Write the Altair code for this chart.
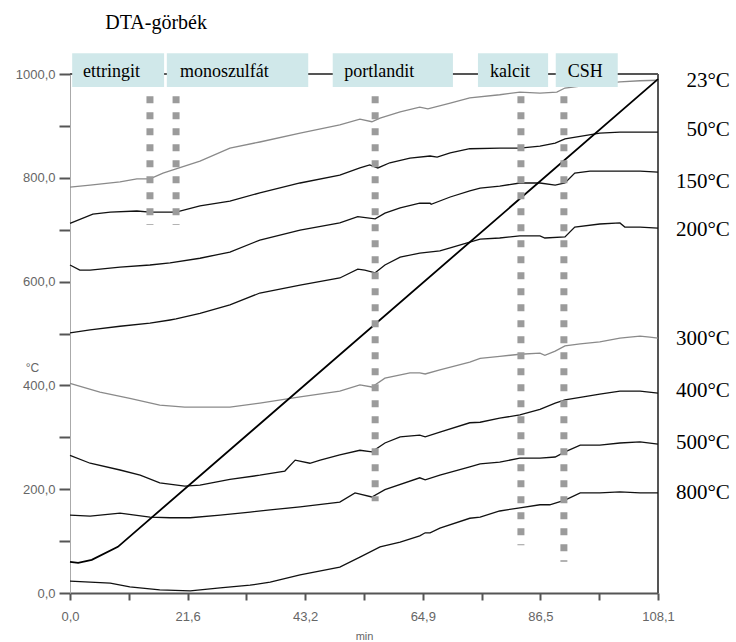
import altair as alt
import pandas as pd

SERIF = "Liberation Serif"
SANS = "Liberation Sans"

# ---------------- data (minutes, °C signal units) ----------------
c23_x = [0, 3.7, 9.2, 12.3, 14.7, 17.1, 19.5, 23.9, 29.4, 34.9, 42.3, 49.6, 53.3, 55.5, 57.0, 60.7, 64.3, 65.8, 69.9, 73.5, 79.0, 82.7, 86.4, 89.5, 91.0, 95.6, 101.1, 104.8, 108.1]
c23_y = [782, 786, 792, 798, 798, 809, 817, 832, 857, 869, 886, 902, 913, 908, 915, 927, 936, 933, 944, 954, 960, 965, 963, 965, 973, 979, 985, 987, 988]

c50_x = [0, 4.2, 7.4, 12.3, 14.7, 19.5, 23.9, 29.4, 34.9, 42.3, 49.6, 53.3, 55.1, 56.6, 58.8, 62.5, 66.2, 67.5, 69.9, 73.5, 79.0, 82.7, 86.4, 89.2, 91.0, 97.4, 101.1, 104.8, 108.1]
c50_y = [712, 730, 734, 736, 734, 734, 746, 755, 771, 790, 805, 819, 825, 819, 829, 838, 842, 840, 848, 856, 857, 857, 861, 867, 875, 886, 888, 888, 888]

c150_x = [0, 1.8, 3.7, 9.2, 14.7, 18.4, 23.9, 29.4, 34.9, 42.3, 49.6, 52.9, 56.1, 57.9, 60.7, 64.3, 66.2, 66.4, 69.9, 73.5, 75.4, 79.0, 82.7, 86.4, 89.2, 91.0, 92.8, 95.6, 101.1, 104.8, 108.1]
c150_y = [632, 622, 622, 628, 632, 636, 645, 657, 680, 699, 713, 725, 721, 732, 742, 751, 751, 749, 763, 775, 780, 784, 790, 790, 786, 790, 809, 813, 813, 813, 811]

c200_x = [0, 3.7, 9.2, 14.7, 18.4, 19.5, 23.9, 29.4, 34.9, 42.3, 49.6, 52.9, 54.2, 56.1, 57.9, 60.7, 64.3, 68.0, 69.9, 73.5, 75.4, 79.0, 82.7, 86.4, 87.3, 91.0, 92.8, 97.4, 101.1, 102.0, 104.8, 108.1]
c200_y = [501, 507, 514, 520, 526, 528, 539, 555, 578, 593, 607, 624, 622, 617, 632, 647, 655, 659, 665, 676, 682, 684, 688, 688, 684, 686, 705, 711, 713, 705, 705, 703]

c300_x = [0, 5.5, 11.0, 16.5, 21.1, 29.4, 34.9, 42.3, 49.6, 53.3, 55.5, 57.9, 62.5, 64.3, 65.3, 68.0, 73.5, 75.4, 79.0, 82.7, 86.4, 87.3, 89.2, 91.0, 93.8, 97.4, 101.1, 102.9, 104.8, 106.6, 108.1]
c300_y = [404, 387, 375, 362, 358, 358, 366, 378, 389, 401, 397, 414, 424, 424, 422, 430, 445, 452, 456, 460, 462, 458, 466, 476, 480, 484, 491, 493, 495, 493, 491]

c400_x = [0, 3.7, 9.2, 12.9, 16.5, 21.1, 23.9, 29.4, 34.9, 39.5, 41.4, 44.1, 46.0, 49.6, 53.3, 55.5, 57.9, 60.7, 64.3, 65.3, 68.0, 73.5, 75.4, 79.0, 82.7, 86.4, 89.2, 91.0, 93.8, 97.4, 101.1, 104.8, 108.1]
c400_y = [265, 250, 237, 227, 212, 206, 208, 219, 227, 235, 256, 250, 256, 266, 275, 272, 289, 301, 304, 301, 310, 328, 329, 337, 343, 354, 366, 372, 377, 383, 389, 389, 385]

c500_x = [0, 3.7, 9.2, 14.7, 18.4, 22.1, 27.6, 33.1, 36.8, 42.3, 49.6, 52.4, 55.5, 57.9, 64.3, 65.3, 68.0, 73.5, 75.4, 79.0, 82.7, 86.4, 89.2, 91.0, 93.8, 97.4, 101.1, 104.8, 108.1]
c500_y = [150, 148, 154, 146, 145, 145, 150, 156, 160, 166, 175, 193, 185, 199, 222, 218, 227, 243, 249, 252, 260, 260, 262, 272, 285, 285, 289, 291, 287]

c800_x = [0, 3.7, 7.4, 11.0, 16.5, 22.1, 27.6, 33.1, 36.8, 42.3, 49.6, 53.3, 57.0, 60.7, 64.3, 65.3, 66.2, 68.0, 73.5, 75.4, 79.0, 82.7, 86.4, 88.2, 91.0, 93.8, 97.4, 101.1, 104.8, 108.1]
c800_y = [23, 21, 19, 12, 6, 4, 10, 15, 21, 35, 50, 69, 89, 98, 110, 116, 116, 125, 144, 146, 158, 164, 170, 170, 179, 193, 193, 195, 193, 193]

temp_x = [0, 1.5, 4.0, 8.8, 108.1]
temp_y = [60, 58, 64, 89, 990]

series_names = ["23°C", "50°C", "150°C", "200°C", "300°C", "400°C", "500°C", "800°C"]
series_colors = ["#8a8a8a", "#111111", "#111111", "#111111", "#8a8a8a", "#111111", "#111111", "#111111"]
label_y = [986, 892, 792, 699, 489, 389, 289, 193]

box_labels = ["ettringit", "monoszulfát", "portlandit", "kalcit", "CSH"]
box_start = [0.4, 17.8, 48.3, 75.0, 89.3]
box_end = [17.3, 43.8, 70.4, 87.9, 100.7]
box_text_x = [2.4, 20.2, 50.4, 77.2, 91.5]
box_top = 1040
box_bottom = 975
box_text_y = 1004

marker_x = [14.7, 19.5, 56.1, 82.9, 90.8]
marker_top = [957, 957, 957, 957, 957]
marker_bottom = [709, 709, 177, 92, 60]

x_ticks = [0, 10.81, 21.62, 32.43, 43.24, 54.05, 64.86, 75.67, 86.48, 97.29, 108.1]
y_ticks = [0, 100, 200, 300, 400, 500, 600, 700, 800, 900, 1000]

# ---------------- tables ----------------
curve_xs = [c23_x, c50_x, c150_x, c200_x, c300_x, c400_x, c500_x, c800_x]
curve_ys = [c23_y, c50_y, c150_y, c200_y, c300_y, c400_y, c500_y, c800_y]
rows = []
for name, xs, ys in zip(series_names, curve_xs, curve_ys):
    for xv, yv in zip(xs, ys):
        rows.append({"x": xv, "y": yv, "series": name})
curve_df = pd.DataFrame(rows)
temp_df = pd.DataFrame({"x": temp_x, "y": temp_y})
label_df = pd.DataFrame({"label": series_names, "y": label_y})
box_df = pd.DataFrame({"label": box_labels, "x0": box_start, "x1": box_end,
                       "tx": box_text_x, "top": [box_top] * 5, "bottom": [box_bottom] * 5,
                       "ty": [box_text_y] * 5})
marker_df = pd.DataFrame({"x": marker_x, "top": marker_top, "bottom": marker_bottom})
one_df = pd.DataFrame({"a": [0]})

x_scale = alt.Scale(domain=[0, 108.1], nice=False, zero=False)
y_scale = alt.Scale(domain=[0, 1000], nice=False, zero=False)

x_axis = alt.Axis(values=x_ticks,
                  labelExpr="round(datum.value / 10.81) % 2 == 0 ? replace(format(datum.value, '.1f'), '.', ',') : ''",
                  tickSize=7, tickWidth=2, tickColor="#555555", domainColor="#555555", domainWidth=2,
                  labelFont=SANS, labelFontSize=13, labelColor="#666666", labelPadding=10,
                  labelFlush=False, labelOverlap=False, grid=False,
                  titleFont=SANS, titleFontSize=11, titleFontWeight="normal", titleColor="#666666",
                  titleY=43, titleBaseline="middle")
y_axis = alt.Axis(values=y_ticks,
                  labelExpr="datum.value % 200 == 0 ? replace(format(datum.value, '.1f'), '.', ',') : ''",
                  tickSize=11, tickWidth=2, tickColor="#555555", domainColor="#aaaaaa", domainWidth=1,
                  labelFont=SANS, labelFontSize=13, labelColor="#666666", labelPadding=4,
                  labelOverlap=False, grid=False,
                  titleFont=SANS, titleFontSize=12, titleFontWeight="normal", titleColor="#666666",
                  titleAngle=0, titleX=-38, titleY=293, titleAlign="center", titleBaseline="middle")


def X(field):
    return alt.X(field, type="quantitative", scale=x_scale, axis=x_axis, title="min")


def Y(field):
    return alt.Y(field, type="quantitative", scale=y_scale, axis=y_axis, title="°C")


frame_top = alt.Chart(one_df).mark_rule(color="#555555", strokeWidth=2).encode(
    x=alt.datum(0, type="quantitative", scale=x_scale, axis=x_axis, title="min"),
    x2=alt.datum(108.1), y=alt.datum(1000, type="quantitative", scale=y_scale, axis=y_axis, title="°C"))
frame_right = alt.Chart(one_df).mark_rule(color="#555555", strokeWidth=2).encode(
    x=alt.datum(108.1, type="quantitative", scale=x_scale, axis=x_axis, title="min"),
    y=alt.datum(0, type="quantitative", scale=y_scale, axis=y_axis, title="°C"), y2=alt.datum(1000))

curves = alt.Chart(curve_df).mark_line(strokeWidth=1.3).encode(
    x=X("x"), y=Y("y"),
    color=alt.Color("series:N", scale=alt.Scale(domain=series_names, range=series_colors), legend=None),
)

temp_line = alt.Chart(temp_df).mark_line(color="#000000", strokeWidth=1.8).encode(x=X("x"), y=Y("y"))

markers = alt.Chart(marker_df).mark_rule(color="#9b9b9b", strokeWidth=7, strokeDash=[7, 9], strokeCap="butt").encode(
    x=X("x"), y=Y("top"), y2="bottom")

boxes = alt.Chart(box_df).mark_rect(color="#d0e8ea").encode(
    x=X("x0"), x2="x1", y=Y("top"), y2="bottom")

box_text = alt.Chart(box_df).mark_text(font=SERIF, fontSize=18, align="left", baseline="middle", color="#000000").encode(
    x=X("tx"), y=Y("ty"), text="label:N")

right_labels = alt.Chart(label_df).mark_text(font=SERIF, fontSize=21, align="right", baseline="middle", color="#000000").encode(
    x=alt.datum(121.3, type="quantitative", scale=x_scale, axis=x_axis, title="min"),
    y=Y("y"), text="label:N")

chart = alt.layer(frame_top, frame_right, curves, temp_line, markers, boxes, box_text, right_labels).properties(
    width=588, height=519,
    padding={"left": 70, "top": 74, "right": 78, "bottom": 49},
    autosize=alt.AutoSizeParams(type="none"),
    title=alt.TitleParams("DTA-görbék", anchor="start", font=SERIF, fontSize=20, fontWeight="normal",
                          color="#000000", dx=90, offset=20),
).configure_view(stroke=None)

chart.save("out.html", embed_options={"renderer": "svg", "actions": False})
